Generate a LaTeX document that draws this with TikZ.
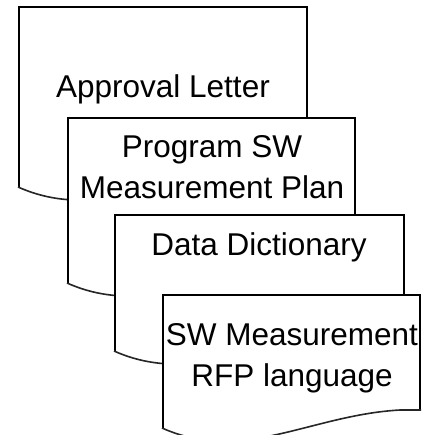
\documentclass[tikz,border=0pt]{standalone}
\usepackage{fontspec}
\setmainfont{Liberation Sans}
\tikzset{
  docedge/.style={draw=black,line width=2.3pt,line join=miter},
  docwave/.style={draw=black!85,line width=1.6pt},
  doctext/.style={font=\fontsize{31.5}{41}\selectfont,inner sep=0pt,align=center}
}
\begin{document}
\begin{tikzpicture}[x=1pt,y=-1pt]%pile de documents
\useasboundingbox (0,0) rectangle (428,435);

% feuilles : gauche/haut/droite/bas gauche
\foreach \xa/\yt/\xb/\yl in {19/7/307/187, 68/118/355/283, 115/215/404/351, 163/295/420/428} {
\fill [white] (\xa,\yl) -- (\xa,\yt) -- (\xb,\yt) -- (\xb,\yl-18) -- (\xb-20,\yl-18)
  .. controls (\xa+147,\yl-13) and (\xa+80,\yl+36) .. (\xa,\yl) -- cycle;
\draw [docedge] (\xa,\yl) -- (\xa,\yt) -- (\xb,\yt) -- (\xb,\yl-18);
\draw [docwave] (\xb+1,\yl-18) -- (\xb-20,\yl-18)
  .. controls (\xa+147,\yl-13) and (\xa+80,\yl+36) .. (\xa-1,\yl);}

\node [doctext,anchor=base] (approval) at (163,98) {Approval Letter};
\node [doctext] (plan) at (212,167) {Program SW\\Measurement Plan};
\node [doctext,anchor=base] (dict) at (259,255) {Data Dictionary};
\node [doctext] (rfp) at (292,358) {SW Measurement\\RFP language};
\end{tikzpicture}
\end{document}
